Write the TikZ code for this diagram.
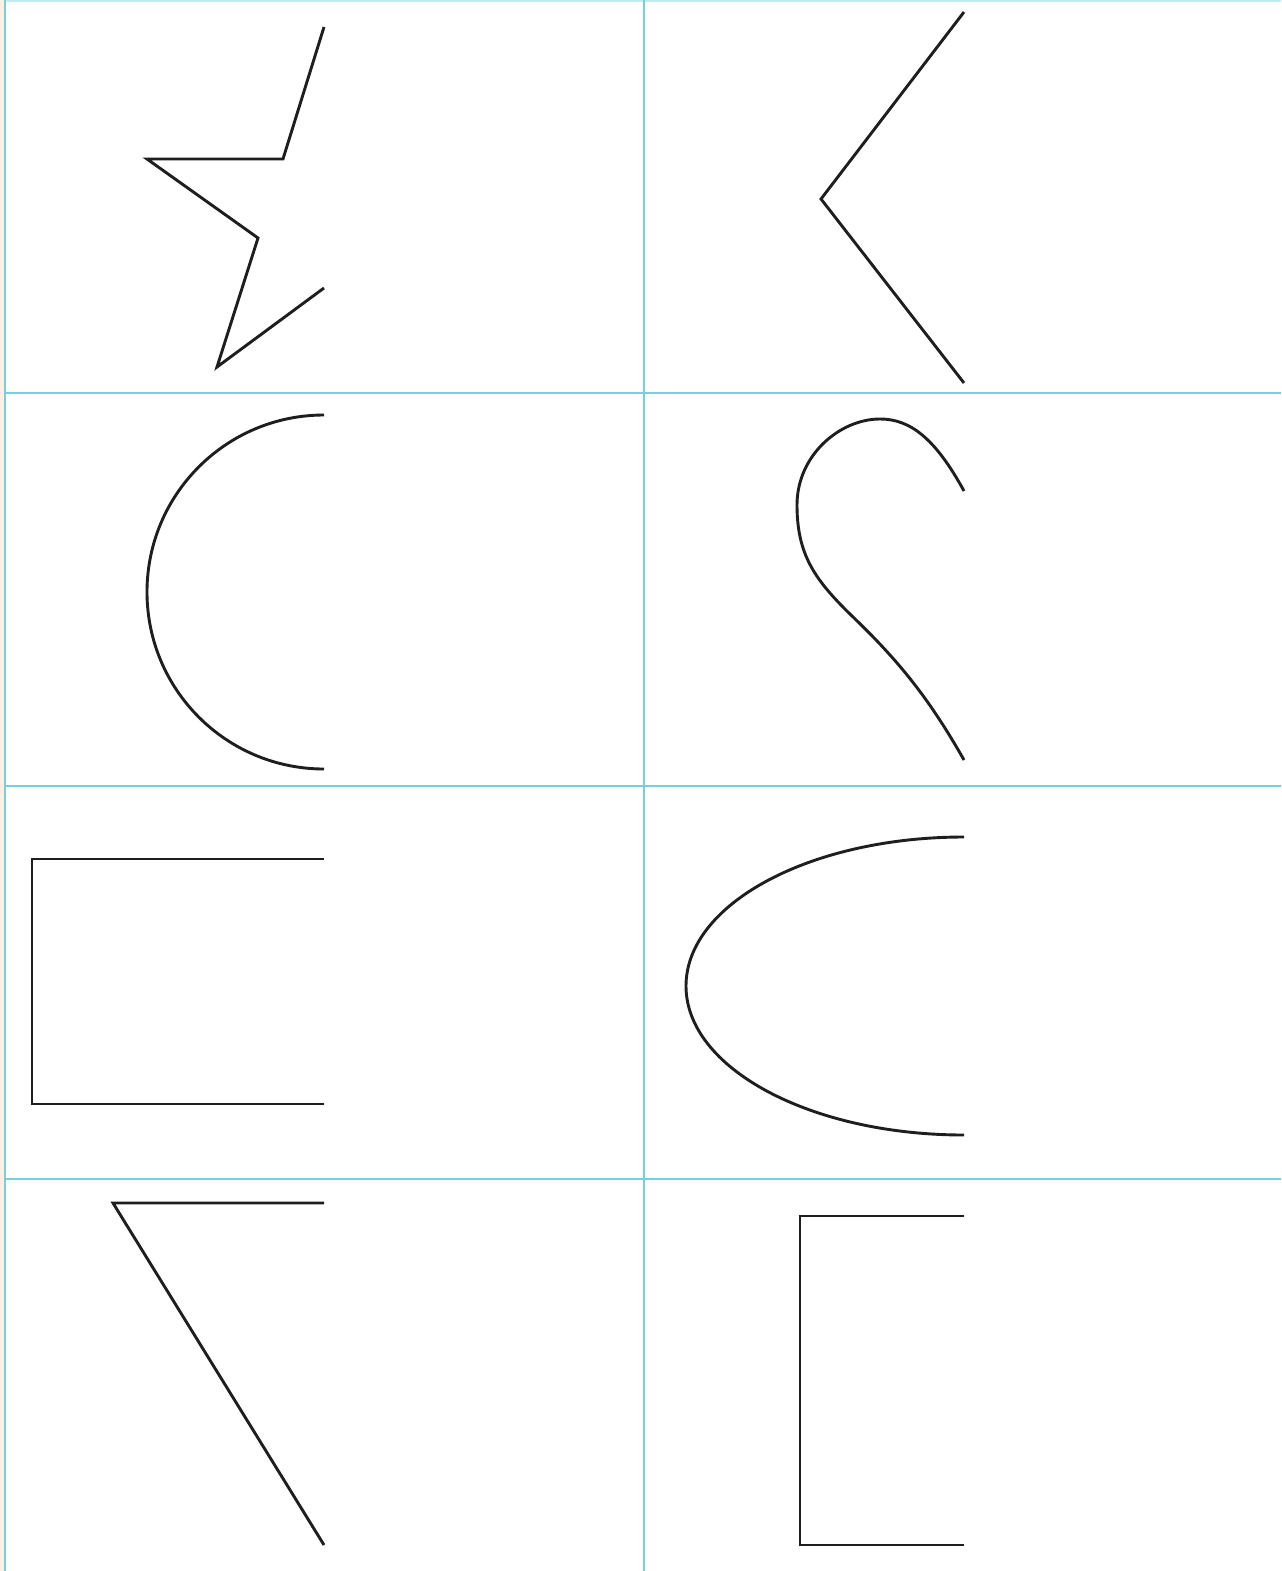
\documentclass[tikz,border=0pt]{standalone}
\definecolor{gridc}{RGB}{115,208,220}
\definecolor{gridtop}{RGB}{190,236,240}
\definecolor{stripc}{RGB}{253,240,226}
\definecolor{inkc}{RGB}{30,30,30}
\tikzset{
  gridline/.style={draw=gridc, line width=0.045cm},
  shapeline/.style={draw=inkc, line width=0.058cm, line join=miter}
}
\begin{document}
\begin{tikzpicture}[x=0.02cm,y=-0.02cm]
\useasboundingbox (0,0) rectangle (1281,1571);
\fill[white] (0,0) rectangle (1281,1571);
\fill[stripc] (0,0) rectangle (4,1571);
% grid
\draw[draw=gridtop, line width=0.04cm] (5,1) -- (1281,1);
\draw[gridline] (5,0) -- (5,1571);
\draw[gridline] (644,0) -- (644,1571);
\draw[gridline] (5,393) -- (1281,393);
\draw[gridline] (5,786) -- (1281,786);
\draw[gridline] (5,1179) -- (1281,1179);
% star half
\draw[shapeline] (324,27) -- (283,159) -- (147,159) -- (258,238) -- (217,367) -- (324,288);
% angle
\draw[shapeline] (964,12) -- (821,199) -- (964,383);
% semicircle
\draw[shapeline] (324,415) arc[start angle=90, end angle=270, x radius=177, y radius=-177];
% question-mark half
\draw[shapeline] (964,491) .. controls (935,438) and (910,419) .. (880,419)
  .. controls (840,419) and (797,455) .. (797,505)
  .. controls (797,555) and (815,580) .. (852,616)
  .. controls (900,662) and (930,700) .. (964,760);
% rectangle half
\draw[shapeline] (324,859) -- (32,859) -- (32,1104) -- (324,1104);
% ellipse half
\draw[shapeline] (964,837) arc[start angle=90, end angle=270, x radius=278, y radius=-149];
% triangle half
\draw[shapeline] (324,1203) -- (113,1203) -- (324,1545);
% tall rectangle half
\draw[shapeline] (964,1216) -- (800,1216) -- (800,1545) -- (964,1545);
\end{tikzpicture}
\end{document}
